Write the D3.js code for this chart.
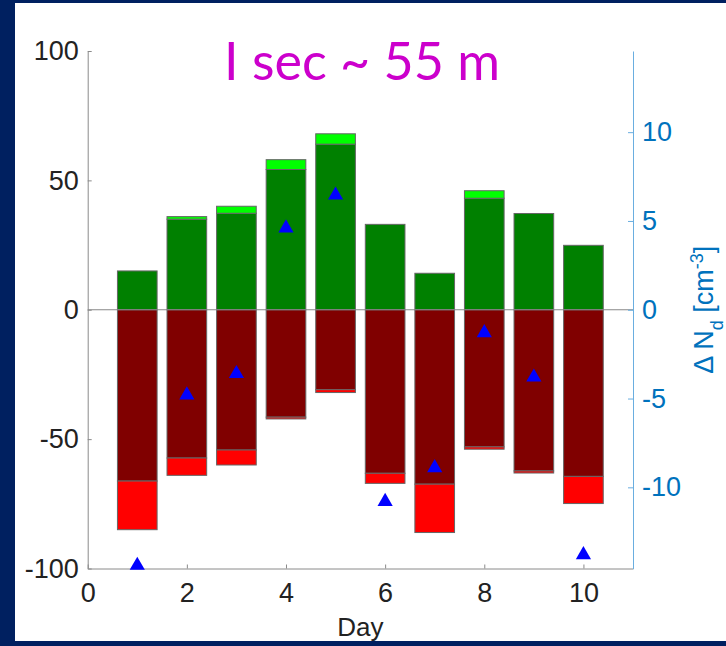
<!DOCTYPE html>
<html>
<head>
<meta charset="utf-8">
<script src="https://cdn.jsdelivr.net/npm/d3@7"></script>
<style>
    body { margin: 0; background: #002060; }
    #chart { width: 726px; height: 646px; }
    text { font-family: "Liberation Sans", Arial, sans-serif; }
</style>
</head>
<body>
<div id="chart"></div>
<script>
// values
const days = [1, 2, 3, 4, 5, 6, 7, 8, 9, 10];
const greenDark = [15, 35, 37.3, 54.2, 64, 33, 14.1, 43.1, 37.2, 24.9];
const greenTotal = [15, 36, 40, 58, 68, 33, 14.1, 46, 37.2, 24.9];
const redDark = [-66.2, -57.3, -54.2, -41.5, -30.9, -63.2, -67.4, -53, -62.3, -64.4];
const redTotal = [-85, -64, -60, -42.2, -32, -67.1, -86.1, -53.9, -63.1, -74.9];
const deltaNd = [-14.4, -4.8, -3.6, 4.6, 6.45, -10.8, -8.9, -1.3, -3.8, -13.8];

const xTicks = [0, 2, 4, 6, 8, 10];
const leftTicks = [-100, -50, 0, 50, 100];
const rightTicks = [-10, -5, 0, 5, 10];

const W = 726, H = 646;
const margin = {top: 51, right: 93, bottom: 77.5, left: 87.7};
const width = W - margin.left - margin.right;
const height = H - margin.top - margin.bottom;

const svg = d3.select("#chart").append("svg")
    .attr("width", W)
    .attr("height", H);

// white panel on the navy slide
svg.append("rect")
    .attr("x", 15).attr("y", 3)
    .attr("width", W - 15).attr("height", 638)
    .attr("fill", "#fff");

const g = svg.append("g")
    .attr("transform", "translate(" + margin.left + "," + margin.top + ")");

let x = d3.scaleLinear().domain([0, 11]).range([0, width]);
let yL = d3.scaleLinear().domain([-100, 100]).range([height, 0]);
let yR = d3.scaleLinear().domain([-14.57, 14.57]).range([height, 0]);

// stacked segments: [day, from, to, colour]
let segs = [];
days.forEach((d, i) => {
    segs.push({day: d, y0: 0, y1: greenDark[i], fill: "#008000"});
    if (greenTotal[i] > greenDark[i]) segs.push({day: d, y0: greenDark[i], y1: greenTotal[i], fill: "#00ff00"});
    segs.push({day: d, y0: 0, y1: redDark[i], fill: "#800000"});
    if (redTotal[i] < redDark[i]) segs.push({day: d, y0: redDark[i], y1: redTotal[i], fill: "#ff0000"});
});

const bw = 0.8;
g.selectAll(".seg")
    .data(segs)
    .join("rect")
    .attr("class", "seg")
    .attr("x", d => x(d.day - bw / 2))
    .attr("width", x(bw) - x(0))
    .attr("y", d => yL(Math.max(d.y0, d.y1)))
    .attr("height", d => Math.abs(yL(d.y0) - yL(d.y1)))
    .attr("fill", d => d.fill)
    .attr("stroke", "#666")
    .attr("stroke-width", 1);

// zero line
g.append("line")
    .attr("x1", 0).attr("x2", width)
    .attr("y1", yL(0)).attr("y2", yL(0))
    .attr("stroke", "#888").attr("stroke-width", 1);

// axes (plain hyphen minus like the original)
const fmt = d => String(d);
let xAxis = g.append("g")
    .attr("transform", "translate(0," + height + ")")
    .call(d3.axisBottom(x).tickValues(xTicks).tickFormat(fmt).tickSize(-4).tickSizeOuter(0).tickPadding(14));
let lAxis = g.append("g")
    .call(d3.axisLeft(yL).tickValues(leftTicks).tickFormat(fmt).tickSize(-4).tickSizeOuter(0).tickPadding(9));
let rAxis = g.append("g")
    .attr("transform", "translate(" + width + ",0)")
    .call(d3.axisRight(yR).tickValues(rightTicks).tickFormat(fmt).tickSize(-5).tickSizeOuter(0).tickPadding(9));

[xAxis, lAxis].forEach(a => {
    a.selectAll("path, line").attr("stroke", "#8a8a8a");
    a.selectAll("text").attr("fill", "#222").style("font-size", "27px");
});
rAxis.selectAll("path, line").attr("stroke", "#6aaee0");
rAxis.selectAll("text").attr("fill", "#0072BD").style("font-size", "27px");

// triangles on the right axis
g.selectAll(".tri")
    .data(days)
    .join("path")
    .attr("class", "tri")
    .attr("transform", (d, i) => "translate(" + x(d) + "," + yR(deltaNd[i]) + ")")
    .attr("d", d3.symbol(d3.symbolTriangle, 100))
    .attr("fill", "#0000ff");

// labels
svg.append("text")
    .attr("x", margin.left + width / 2)
    .attr("y", 636)
    .attr("text-anchor", "middle")
    .attr("fill", "#222")
    .style("font-size", "26px")
    .text("Day");

let rl = svg.append("text")
    .attr("transform", "translate(713," + (margin.top + yR(0)) + ") rotate(-90)")
    .attr("text-anchor", "middle")
    .attr("fill", "#0072BD")
    .style("font-size", "27px");
rl.append("tspan").text("Δ N");
rl.append("tspan").attr("baseline-shift", "sub").style("font-size", "18px").text("d");
rl.append("tspan").text(" [cm");
rl.append("tspan").attr("baseline-shift", "super").style("font-size", "18px").text("-3");
rl.append("tspan").text("]");

svg.append("text")
    .attr("x", 362)
    .attr("y", 80)
    .attr("text-anchor", "middle")
    .attr("fill", "#cc00cc")
    .style("font-family", "Lato, 'Open Sans', sans-serif")
    .style("font-size", "52px")
    .text("I sec ~ 55 m");
</script>
</body>
</html>
